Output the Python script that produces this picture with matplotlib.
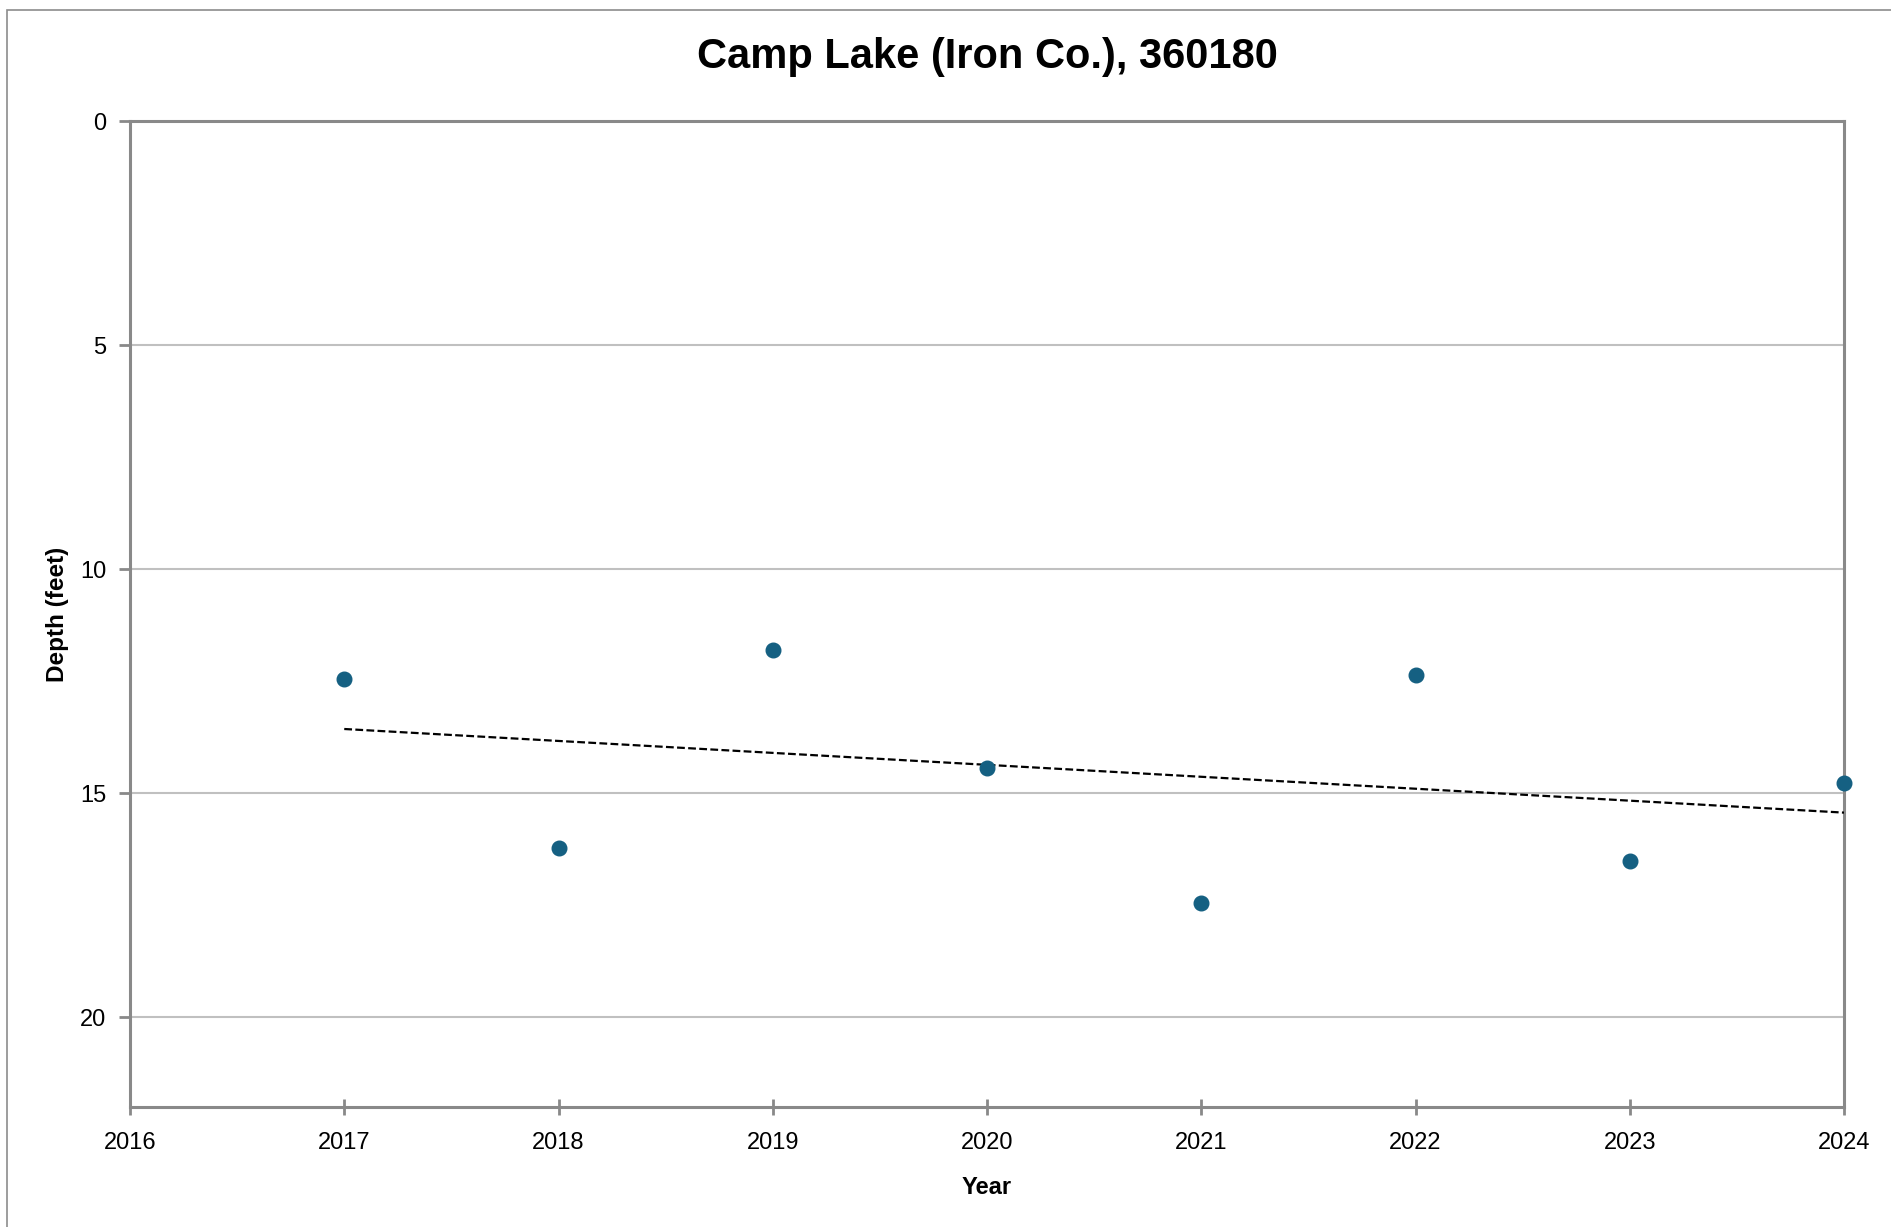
import matplotlib
matplotlib.use("Agg")
import matplotlib.pyplot as plt
from matplotlib.patches import Rectangle
import numpy as np

# data
years = [2017, 2018, 2019, 2020, 2021, 2022, 2023, 2024]
depth = [12.45, 16.21, 11.80, 14.44, 17.45, 12.37, 16.51, 14.76]
y_ticks = [0, 5, 10, 15, 20]
x_ticks = [2016, 2017, 2018, 2019, 2020, 2021, 2022, 2023, 2024]

plt.rcParams['font.family'] = ['Liberation Sans', 'DejaVu Sans']

W, H = 1891, 1227
fig = plt.figure(figsize=(W / 100, H / 100), dpi=100)

# outer chart border (runs off the right/bottom edge)
fig.patches.append(Rectangle((7 / W, -0.05), 1.1, 1 - 10 / H + 0.05,
                             transform=fig.transFigure, fill=False,
                             edgecolor='#8c8c8c', linewidth=1.2))

left, right, top, bottom = 130, 1844, 121, 1107
ax = fig.add_axes([left / W, 1 - bottom / H, (right - left) / W, (bottom - top) / H])

spine_c = '#898989'
for s in ax.spines.values():
    s.set_color(spine_c)
    s.set_linewidth(2.2)

ax.set_xlim(2016, 2024)
ax.set_ylim(22, 0)
ax.set_xticks(x_ticks)
ax.set_yticks(y_ticks)
ax.yaxis.grid(True, color='#c0c0c0', linewidth=1.5)
ax.set_axisbelow(True)

ax.tick_params(axis='x', direction='inout', length=12, width=2, color=spine_c,
               labelsize=17, pad=12)
ax.tick_params(axis='y', direction='out', length=8, width=2, color=spine_c,
               labelsize=17, pad=9)

# trendline (linear fit)
coef = np.polyfit(years, depth, 1)
tx = np.array([years[0], years[-1]])
ax.plot(tx, np.polyval(coef, tx), color='black', linestyle=(0, (3.5, 1.5)),
        linewidth=1.6, zorder=3)

ax.plot(years, depth, linestyle='none', marker='o', markersize=10.5,
        color='#156082', clip_on=False, zorder=4)

ax.set_xlabel('Year', fontsize=17, fontweight='bold', labelpad=16)
ax.set_ylabel('Depth (feet)', fontsize=17.5, fontweight='bold', labelpad=8)

fig.text((left + right) / 2 / W, 1 - 57 / H, 'Camp Lake (Iron Co.), 360180',
         ha='center', va='center', fontsize=30, fontweight='bold')

fig.savefig('out.png', dpi=100)
